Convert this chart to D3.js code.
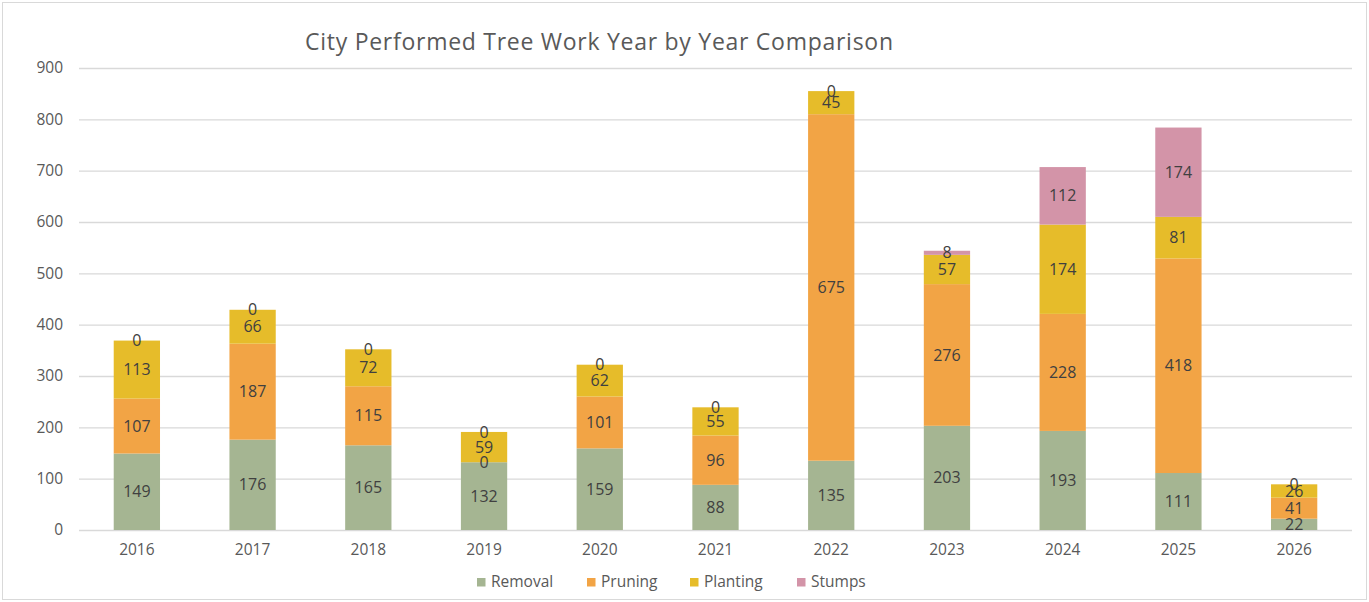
<!DOCTYPE html>
<html><head><meta charset="utf-8">
<script src="https://cdn.jsdelivr.net/npm/d3@7"></script>
<style>
html,body{margin:0;padding:0;background:#fff;}
svg{display:block;font-family:"Open Sans","Liberation Sans",sans-serif;}
</style></head>
<body>
<svg id="chart" width="1369" height="602"></svg>
<script>
const years = ["2016","2017","2018","2019","2020","2021","2022","2023","2024","2025","2026"];
const removal  = [149,176,165,132,159,88,135,203,193,111,22];
const pruning  = [107,187,115,0,101,96,675,276,228,418,41];
const planting = [113,66,72,59,62,55,45,57,174,81,26];
const stumps   = [0,0,0,0,0,0,0,8,112,174,0];
const seriesNames = ["Removal","Pruning","Planting","Stumps"];
const seriesColors = ["#A5B592","#F2A445","#E6BC2A","#D394A8"];
const yTicks = [0,100,200,300,400,500,600,700,800,900];
const title = "City Performed Tree Work Year by Year Comparison";

const svg = d3.select("#chart");
const W = 1369, H = 602;
svg.append("rect").attr("x",2.5).attr("y",2.5).attr("width",W-5).attr("height",H-5)
  .attr("fill","#fff").attr("stroke","#d9d9d9").attr("stroke-width",1);

const m = {left:79, right:1352, top:68, bottom:530};
const x = d3.scaleBand().domain(years).range([m.left,m.right]).paddingInner(0.6).paddingOuter(0.3);
const y = d3.scaleLinear().domain([0,900]).range([m.bottom,m.top]);

// gridlines
svg.append("g").selectAll("line").data(yTicks).join("line")
  .attr("x1",m.left).attr("x2",m.right)
  .attr("y1",d=>y(d)+0.5).attr("y2",d=>y(d)+0.5)
  .attr("stroke","#d9d9d9").attr("stroke-width",1.3);

// y axis labels
const yAxis = d3.axisLeft(y).tickValues(yTicks).tickSize(0).tickPadding(0);
const gy = svg.append("g").attr("transform",`translate(${m.left-16},0)`).call(yAxis);
gy.select(".domain").remove();
gy.selectAll("text").attr("fill","#595959").style("font-size","15.5px").style("font-family","'Open Sans',sans-serif");

// x axis labels
const xAxis = d3.axisBottom(x).tickSize(0).tickPadding(0);
const gx = svg.append("g").attr("transform",`translate(0,${m.bottom+14})`).call(xAxis);
gx.select(".domain").remove();
gx.selectAll("text").attr("fill","#595959").style("font-size","15.5px").style("font-family","'Open Sans',sans-serif");

// stacked data
const rows = years.map((yr,i)=>({year:yr, Removal:removal[i], Pruning:pruning[i], Planting:planting[i], Stumps:stumps[i]}));
const stack = d3.stack().keys(seriesNames)(rows);
const color = d3.scaleOrdinal().domain(seriesNames).range(seriesColors);

const layers = svg.append("g").selectAll("g").data(stack).join("g").attr("fill",d=>color(d.key));
layers.selectAll("rect").data(d=>d).join("rect")
  .attr("x",d=>x(d.data.year))
  .attr("width",x.bandwidth())
  .attr("y",d=>y(d[1]))
  .attr("height",d=>y(d[0])-y(d[1]));

// labels
const lab = svg.append("g");
stack.forEach(layer=>{
  layer.forEach(d=>{
    const v = d[1]-d[0];
    lab.append("text")
      .attr("x",x(d.data.year)+x.bandwidth()/2)
      .attr("y",(y(d[0])+y(d[1]))/2)
      .attr("dy","0.35em")
      .attr("text-anchor","middle")
      .attr("fill","#404040")
      .style("font-size","16px")
      .text(v);
  });
});

// title
svg.append("text").attr("x",599).attr("y",50).attr("text-anchor","middle")
  .attr("fill","#595959").style("font-size","23px")
  .attr("textLength",588).attr("lengthAdjust","spacing").text(title);

// legend
const legX = [477,587,690,797];
const lg = svg.append("g");
seriesNames.forEach((s,i)=>{
  lg.append("rect").attr("x",legX[i]).attr("y",578).attr("width",8.5).attr("height",8.5).attr("fill",seriesColors[i]);
  lg.append("text").attr("x",legX[i]+14).attr("y",582).attr("dy","0.35em")
    .attr("fill","#595959").style("font-size","15.5px").text(s);
});
</script>
</body></html>
